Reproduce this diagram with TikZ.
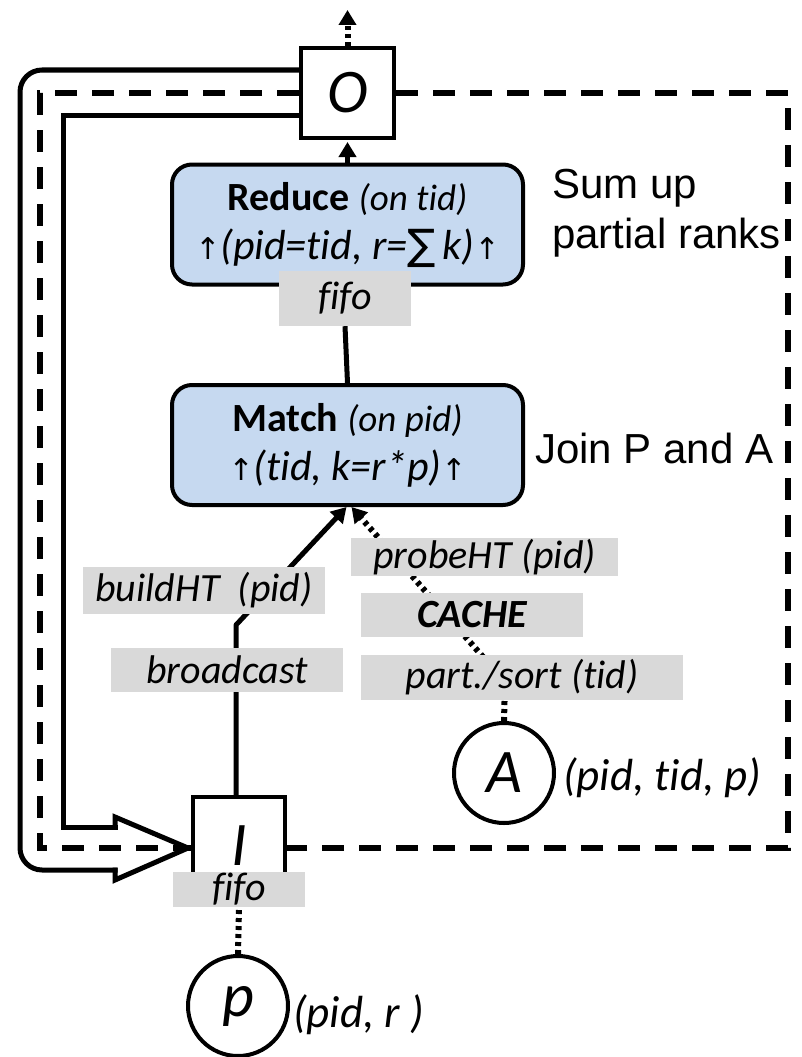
\documentclass[tikz,border=0pt]{standalone}
\usepackage{fontspec}
\setmainfont[Ligatures=NoCommon]{Carlito}
\newfontfamily\arialfont{Liberation Sans}
\newfontfamily\symfont{DejaVu Sans}
\usetikzlibrary{arrows.meta,calc}
\definecolor{opfill}{RGB}{198,217,240}
\definecolor{tagfill}{RGB}{217,217,217}
\newcommand\pxfont[2]{\fontsize{#1}{#2}\selectfont}
\newcommand\uparr{{\symfont\pxfont{30}{30}\char"2191}}
\newcommand\sumsym{{\symfont\itshape\pxfont{42}{42}\char"2211}}
\pgfdeclarelayer{background}
\pgfsetlayers{background,main}
\begin{document}
\begin{tikzpicture}[x=1pt,y=-1pt,
  opbox/.style={draw, line width=4pt, fill=opfill, rounded corners=20pt,
    minimum width=351pt, minimum height=120pt, align=center, inner sep=0pt,
    font=\pxfont{40}{49}},
  tag/.style={fill=tagfill, inner sep=0pt, font=\pxfont{40}{48}\itshape},
  iobox/.style={draw, fill=white, line width=4pt, inner sep=0pt,
    minimum width=93pt, minimum height=90pt, font=\pxfont{62}{62}\itshape},
  src/.style={draw, circle, fill=white, line width=4pt, minimum size=100pt,
    inner sep=0pt, font=\pxfont{62}{62}\itshape},
  tip/.style={-{Triangle[length=15pt,width=17pt]}},
  plain/.style={line width=5pt},
  flow/.style={plain, tip},
  dotline/.style={line width=6pt, dash pattern=on 4pt off 4pt},
  frame/.style={line width=6pt, dash pattern=on 22pt off 15pt},
  loopline/.style={line width=5pt, line cap=rect, line join=miter},
  tuple/.style={inner sep=0pt, anchor=west, font=\pxfont{45}{50}\itshape},
  note/.style={inner sep=0pt, anchor=base west, font=\arialfont\pxfont{42}{50}},
]
\useasboundingbox (0,0) rectangle (801,1057);

% operators, inputs and outputs
\node[iobox] (O) at (347.5,93) {O};
\node[iobox, minimum width=92pt, minimum height=102pt] (I) at (239,848) {\raisebox{5pt}{I}};
\node[opbox] (R) at (347.5,224.5)
  {{\bfseries Reduce} {\pxfont{37}{49}\itshape (on tid)}\\
   {\pxfont{42}{49}\itshape\uparr(pid=tid, r=\sumsym\,k)\uparr}};
\node[opbox] (M) at (347.5,445)
  {{\bfseries Match} {\pxfont{37}{49}\itshape (on pid)}\\
   {\pxfont{42}{49}\itshape\uparr(tid, k=r*p)\uparr}};
\node[src] (A) at (504,773) {A};
\node[src] (P) at (238,1006) {p};

% channel tags
\node[tag, minimum width=132pt, minimum height=55pt] (fifoR) at (345,298.5) {fifo};
\node[tag, minimum width=132pt, minimum height=35pt] (fifoI) at (239,889.5) {fifo};
\node[tag, minimum width=242pt, minimum height=47pt] (build) at (204,590.5) {buildHT\ \ (pid)};
\node[tag, minimum width=232pt, minimum height=44pt] (bcast) at (227,670) {broadcast};
\node[tag, minimum width=267pt, minimum height=38pt] (probe) at (484.5,557) {probeHT (pid)};
\node[tag, minimum width=222pt, minimum height=44pt, font=\pxfont{40}{48}\bfseries\itshape] (cache) at (472,615) {CACHE};
\node[tag, minimum width=322pt, minimum height=45pt] (part) at (522,677.5) {part./sort (tid)};

% schemas and comments
\node[tuple] (tA) at (563,778) {(pid, tid, p)};
\node[tuple] (tP) at (293,1015) {(pid, r )};
\node[note] (n1) at (552,198) {Sum up};
\node[note] (n2) at (552,248) {partial ranks};
\node[note] (n3) at (535,463) {Join P and A};

\coordinate (top) at (347.5,10);
\coordinate (kink) at (236,625);
\coordinate (bend) at (505,682);

\begin{pgfonlayer}{background}
  % iteration frame
  \draw[frame] (O.west) -- (40,93) -- (40,848) -- (I.west);
  \draw[frame] (O.east) -- (788,93) -- (788,848) -- (I.east);
  % feedback loop as a hollow block arrow
  \draw[loopline, rounded corners=22pt] ($(O.west)+(0,-23)$) -- (20,70) -- (20,870) -- (115,870);
  \draw[loopline] (115,870) -- (115,880) -- ($(I.west)+(-3,0)$) -- (115,817) -- (115,827);
  \draw[loopline] (115,827) -- (63,827) -- (63,115) -- ($(O.west)+(0,22)$);
  % data flow
  \draw[dotline, tip] (O.north) -- (top);
  \draw[flow, shorten >=2pt] (R.north) -- (O.south);
  \draw[plain] (fifoR.south) -- (M.north);
  \draw[flow, line join=round] (kink |- I.north) -- (kink) -- ($(M.south)+(-1,0)$);
  \draw[dotline, tip] (A.north) -- (bend) -- ($(M.south)+(4,0)$);
  \draw[dotline] (P.north) -- (fifoI.south);
\end{pgfonlayer}
\end{tikzpicture}
\end{document}
